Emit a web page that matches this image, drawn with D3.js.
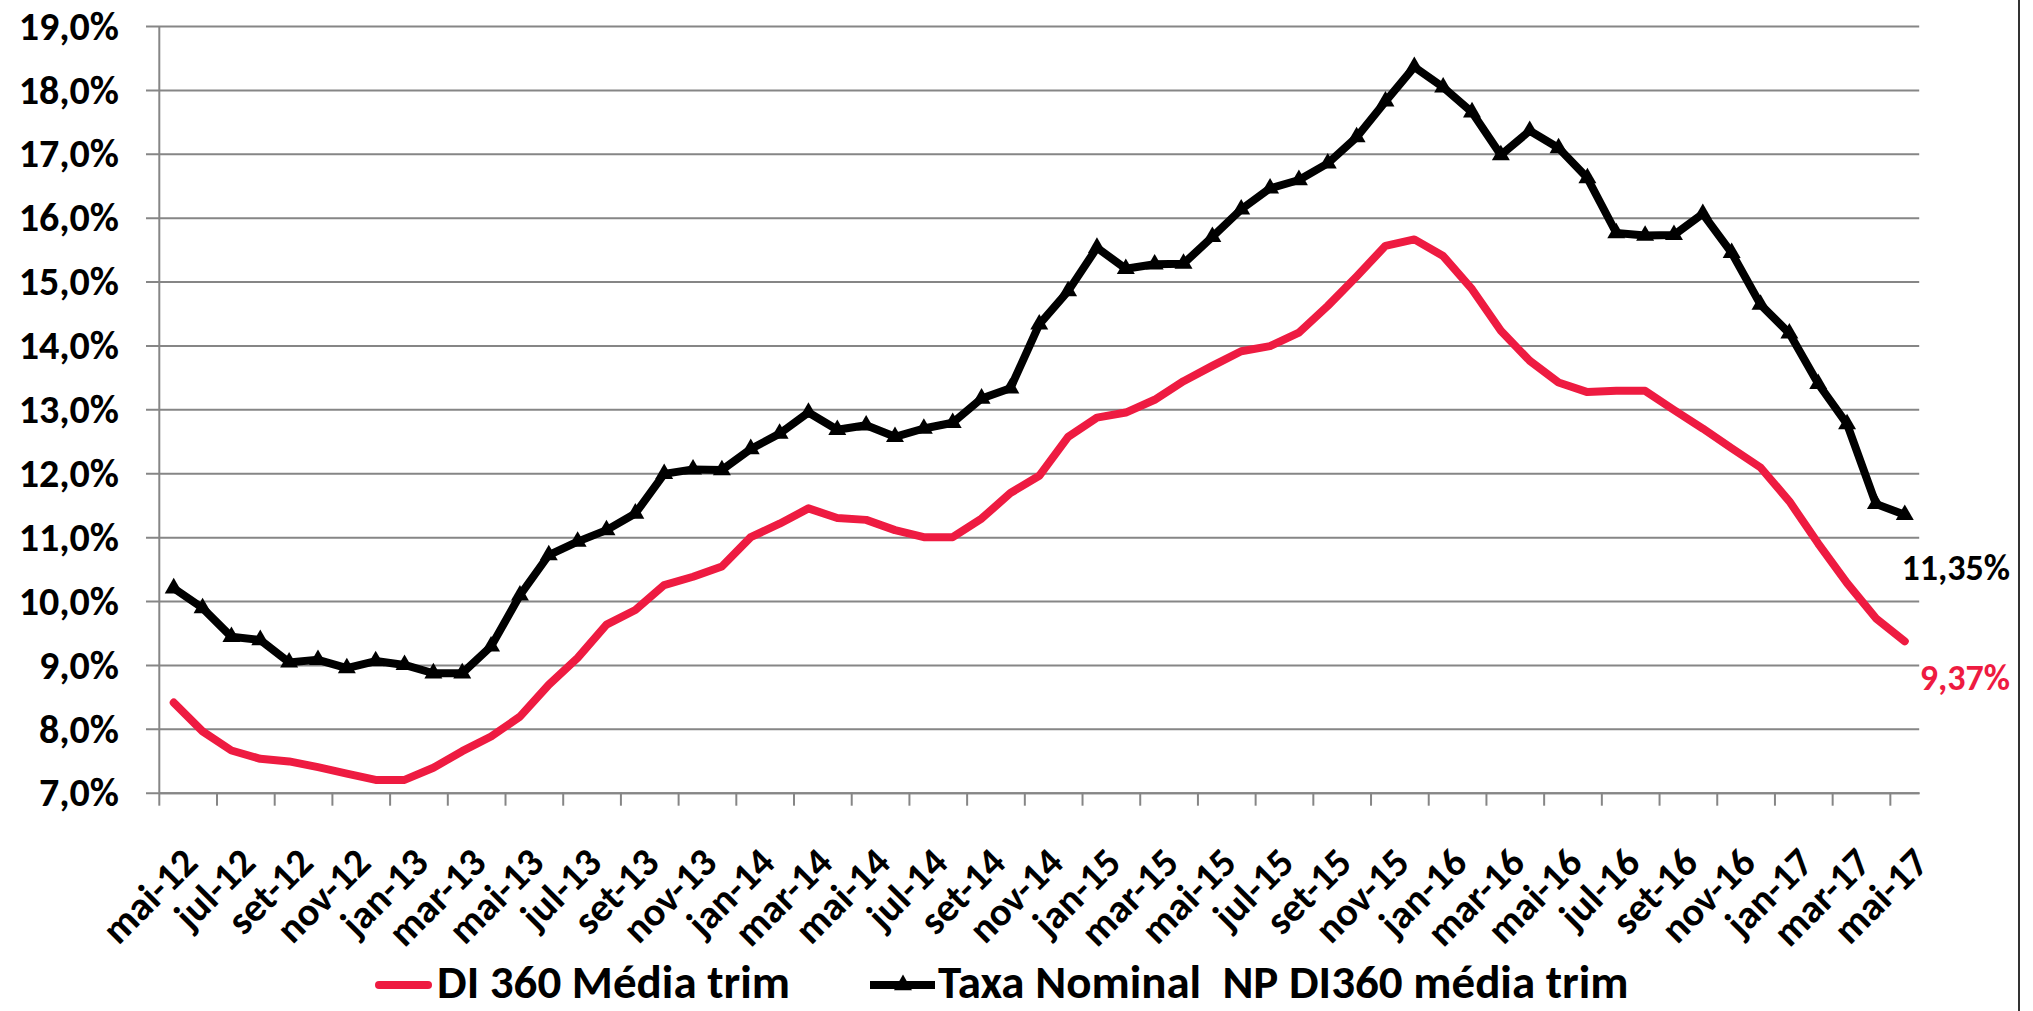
<!DOCTYPE html>
<html>
<head>
<meta charset="utf-8">
<script src="https://cdn.jsdelivr.net/npm/d3@7"></script>
<style>
  body { margin: 0; background: #fff; }
  text { font-family: "Carlito", "Open Sans", sans-serif; font-weight: bold; }
</style>
</head>
<body>
<div id="chart"></div>
<script>
const width = 2033;
const height = 1011;

const months = [
  "mai-12", "jun-12", "jul-12", "ago-12", "set-12", "out-12", "nov-12", "dez-12",
  "jan-13", "fev-13", "mar-13", "abr-13", "mai-13", "jun-13", "jul-13", "ago-13",
  "set-13", "out-13", "nov-13", "dez-13", "jan-14", "fev-14", "mar-14", "abr-14",
  "mai-14", "jun-14", "jul-14", "ago-14", "set-14", "out-14", "nov-14", "dez-14",
  "jan-15", "fev-15", "mar-15", "abr-15", "mai-15", "jun-15", "jul-15", "ago-15",
  "set-15", "out-15", "nov-15", "dez-15", "jan-16", "fev-16", "mar-16", "abr-16",
  "mai-16", "jun-16", "jul-16", "ago-16", "set-16", "out-16", "nov-16", "dez-16",
  "jan-17", "fev-17", "mar-17", "abr-17", "mai-17"
];

// every second month gets a label
const tickLabels = months.filter((d, i) => i % 2 === 0);

const di360 = [
  8.41, 7.96, 7.66, 7.53, 7.49, 7.40, 7.30, 7.20, 7.20, 7.39,
  7.65, 7.88, 8.19, 8.69, 9.11, 9.63, 9.86, 10.25, 10.38, 10.54,
  11.00, 11.21, 11.45, 11.30, 11.27, 11.11, 11.00, 11.00, 11.29, 11.69,
  11.96, 12.57, 12.87, 12.95, 13.15, 13.44, 13.68, 13.91, 13.99, 14.20,
  14.62, 15.08, 15.56, 15.66, 15.40, 14.88, 14.23, 13.76, 13.42, 13.27,
  13.29, 13.29, 12.99, 12.70, 12.39, 12.09, 11.56, 10.90, 10.28, 9.73,
  9.37
];

const taxaNominal = [
  10.20, 9.89, 9.44, 9.39, 9.04, 9.08, 8.95, 9.06, 9.00, 8.87,
  8.87, 9.29, 10.09, 10.72, 10.93, 11.11, 11.37, 11.99, 12.06, 12.05,
  12.38, 12.62, 12.95, 12.68, 12.75, 12.57, 12.70, 12.79, 13.17, 13.33,
  14.33, 14.85, 15.53, 15.20, 15.27, 15.28, 15.70, 16.13, 16.46, 16.59,
  16.85, 17.26, 17.82, 18.36, 18.04, 17.65, 16.98, 17.36, 17.09, 16.62,
  15.76, 15.72, 15.73, 16.06, 15.45, 14.64, 14.19, 13.40, 12.77, 11.52,
  11.35
];

const yTicks = [7, 8, 9, 10, 11, 12, 13, 14, 15, 16, 17, 18, 19];

const seriesNames = ["DI 360 Média trim", "Taxa Nominal  NP DI360 média trim"];
const lastLabels = ["9,37%", "11,35%"];

const red = "#ee1b41";
const gridColor = "#868686";

const plotLeft = 159.3;
const plotRight = 1919.2;
const plotTop = 26;
const plotBottom = 792.7;

const xScale = d3.scaleBand().domain(months).range([plotLeft, plotRight]);
const bw = xScale.bandwidth();
const xMid = d => xScale(d) + bw / 2;

const yScale = d3.scaleLinear().domain([7, 19]).range([plotBottom, plotTop]);

const fmt = v => d3.format(".1f")(v).replace(".", ",") + "%";

const svg = d3
  .select("#chart")
  .append("svg")
  .attr("width", width)
  .attr("height", height);

svg.append("rect").attr("width", width).attr("height", height).attr("fill", "#fff");

// gridlines + y labels
const yAxis = d3
  .axisLeft(yScale)
  .tickValues(yTicks)
  .tickSize(-(plotRight - 146))
  .tickPadding(27)
  .tickFormat(fmt);

const yg = svg
  .append("g")
  .attr("transform", "translate(146,0)")
  .call(yAxis);

yg.select(".domain").remove();
yg.selectAll(".tick line").attr("stroke", gridColor).attr("stroke-width", 2);
yg.selectAll(".tick text")
  .attr("fill", "#000")
  .style("font-size", "40px")
  .attr("dy", "0.33em");

svg
  .append("line")
  .attr("x1", plotLeft)
  .attr("x2", plotLeft)
  .attr("y1", plotTop)
  .attr("y2", plotBottom)
  .attr("stroke", gridColor)
  .attr("stroke-width", 2);

// x axis, ticks on the category boundaries
const xAxis = d3
  .axisBottom(xScale)
  .tickValues(tickLabels)
  .tickSize(13)
  .tickSizeOuter(0);

const xg = svg
  .append("g")
  .attr("transform", `translate(0,${plotBottom})`)
  .call(xAxis);

xg.select(".domain").attr("stroke", gridColor).attr("stroke-width", 2);
xg.selectAll(".tick line")
  .attr("stroke", gridColor)
  .attr("stroke-width", 2)
  .attr("transform", `translate(${-bw / 2},0)`);
xg.selectAll(".tick text")
  .attr("fill", "#000")
  .style("font-size", "40px")
  .attr("text-anchor", "end")
  .attr("x", 0)
  .attr("y", 0)
  .attr("dy", "0.64em")
  .attr("transform", "translate(8,54) rotate(-45)");

// lines
const line = d3
  .line()
  .x((d, i) => xMid(months[i]))
  .y(d => yScale(d));

svg
  .append("path")
  .datum(di360)
  .attr("fill", "none")
  .attr("stroke", red)
  .attr("stroke-width", 8)
  .attr("stroke-linejoin", "round")
  .attr("stroke-linecap", "round")
  .attr("d", line);

svg
  .append("path")
  .datum(taxaNominal)
  .attr("fill", "none")
  .attr("stroke", "#000")
  .attr("stroke-width", 8)
  .attr("stroke-linejoin", "round")
  .attr("d", line);

const triangle = d3.symbol(d3.symbolTriangle, 140);

svg
  .selectAll("path.marker")
  .data(taxaNominal)
  .enter()
  .append("path")
  .attr("class", "marker")
  .attr("d", triangle)
  .attr("fill", "#000")
  .attr("transform", (d, i) => `translate(${xMid(months[i])},${yScale(d)})`);

// last value labels
const lastIdx = months.length - 1;
svg
  .append("text")
  .attr("x", 2010)
  .attr("y", yScale(taxaNominal[lastIdx]) + 65)
  .attr("text-anchor", "end")
  .attr("fill", "#000")
  .style("font-size", "36px")
  .text(lastLabels[1]);

svg
  .append("text")
  .attr("x", 2010)
  .attr("y", yScale(di360[lastIdx]) + 49)
  .attr("text-anchor", "end")
  .attr("fill", red)
  .style("font-size", "36px")
  .text(lastLabels[0]);

// legend
const legend = svg.append("g");

legend
  .append("line")
  .attr("x1", 379)
  .attr("x2", 428)
  .attr("y1", 985)
  .attr("y2", 985)
  .attr("stroke", red)
  .attr("stroke-width", 8)
  .attr("stroke-linecap", "round");

legend
  .append("text")
  .attr("x", 437)
  .attr("y", 998)
  .style("font-size", "47px")
  .text(seriesNames[0]);

legend
  .append("line")
  .attr("x1", 870)
  .attr("x2", 935)
  .attr("y1", 985)
  .attr("y2", 985)
  .attr("stroke", "#000")
  .attr("stroke-width", 8);

legend
  .append("path")
  .attr("d", triangle)
  .attr("fill", "#000")
  .attr("transform", "translate(903,985)");

legend
  .append("text")
  .attr("x", 938)
  .attr("y", 998)
  .style("font-size", "47px")
  .style("white-space", "pre")
  .text(seriesNames[1]);

// chart frame edge on the right
svg
  .append("line")
  .attr("x1", 2019)
  .attr("x2", 2019)
  .attr("y1", 0)
  .attr("y2", height)
  .attr("stroke", "#333")
  .attr("stroke-width", 2);
</script>
</body>
</html>
